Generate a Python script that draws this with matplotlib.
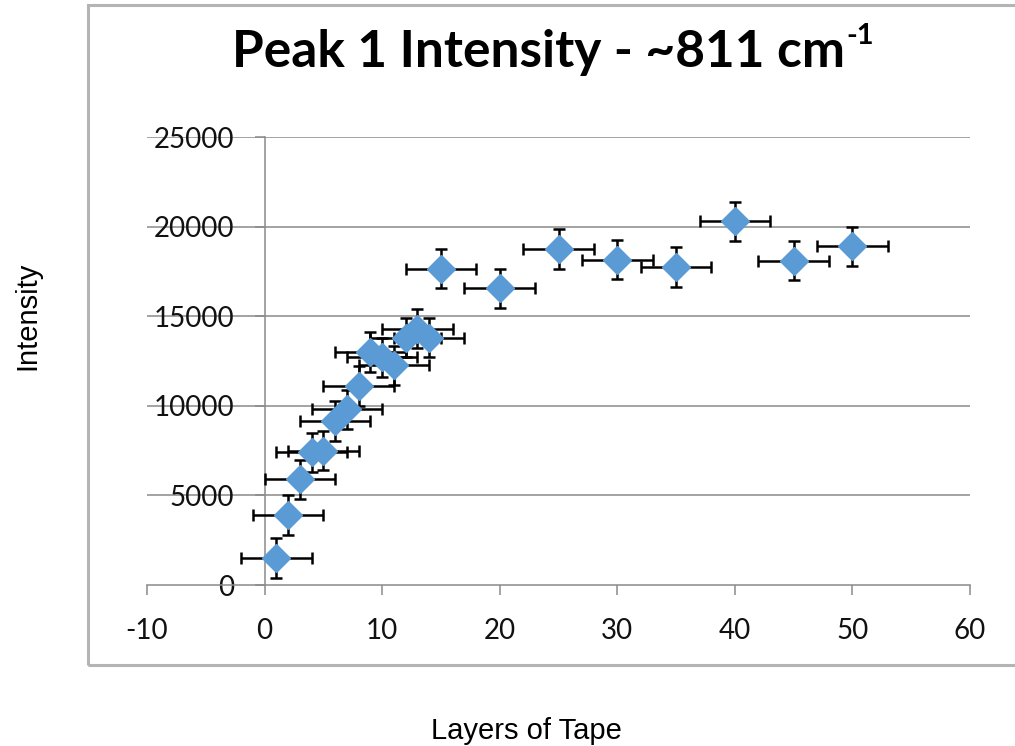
import matplotlib
matplotlib.use('Agg')
import matplotlib.pyplot as plt
from matplotlib.patches import Rectangle

# data
layers = [1, 2, 3, 4, 5, 6, 7, 8, 9, 10, 11, 12, 13, 14, 15, 20, 25, 30, 35, 40, 45, 50]
intensity = [1500, 3900, 5900, 7400, 7500, 9150, 9800, 11100, 13000, 12700, 12250,
             13800, 14300, 13800, 17650, 16550, 18750, 18150, 17750, 20300, 18100, 18900]
x_err = [3] * len(layers)
y_err = [1100] * len(layers)

x_ticks = [-10, 0, 10, 20, 30, 40, 50, 60]
y_ticks = [0, 5000, 10000, 15000, 20000, 25000]

plt.rcParams['axes.unicode_minus'] = False

W, H = 1015, 746
fig = plt.figure(figsize=(W / 100, H / 100), dpi=100)
fig.patch.set_facecolor('white')

# chart frame (cropped on the right)
fig.patches.append(Rectangle((88 / W, 1 - 665 / H), (1030 - 88) / W, (665 - 5) / H,
                             transform=fig.transFigure, fill=False,
                             edgecolor='#b4b4b4', lw=2.2))

ax = fig.add_axes([147 / W, (H - 585) / H, 823 / W, 448 / H])
ax.set_xlim(-10, 60)
ax.set_ylim(0, 25000)
ax.set_facecolor('none')

grid_col = '#8a8a8a'
for v in y_ticks[1:]:
    ax.axhline(v, color=grid_col, lw=1.1, zorder=1)

for s in ['top', 'right']:
    ax.spines[s].set_visible(False)
ax.spines['left'].set_position(('data', 0))
ax.spines['left'].set_color(grid_col)
ax.spines['bottom'].set_color(grid_col)
ax.spines['left'].set_linewidth(1.1)
ax.spines['bottom'].set_linewidth(1.1)

ax.set_xticks(x_ticks)
ax.set_yticks(y_ticks)
ax.set_xticklabels([str(t) for t in x_ticks])
ax.set_yticklabels([str(t) for t in y_ticks])
ax.tick_params(axis='both', direction='out', length=7, width=1.1, color=grid_col,
               labelsize=20, labelcolor='#111111')
ax.tick_params(axis='y', pad=15)
ax.tick_params(axis='x', pad=17)
for lbl in ax.get_xticklabels() + ax.get_yticklabels():
    lbl.set_family('Lato')

ax.errorbar(layers, intensity, xerr=x_err, yerr=y_err, fmt='D', color='#5b9bd5',
            mec='#5b9bd5', markersize=14, ecolor='black', elinewidth=1.8,
            capsize=4.5, capthick=1.8, zorder=3)

# title with a separate superscript
title = fig.text(538 / W, 1 - 67 / H, 'Peak 1 Intensity - ~811 cm',
                 ha='center', va='baseline', fontsize=37, fontweight='bold',
                 family='Lato')
ax.annotate('-1', xy=(1, 1), xycoords=title, xytext=(1, 4),
            textcoords='offset points', ha='left', va='top',
            fontsize=21, fontweight='bold', family='Lato')

fig.text(27 / W, 1 - 316 / H, 'Intensity', rotation=90, ha='center', va='center',
         fontsize=21, family='Liberation Sans')
fig.text(526 / W, 1 - 739 / H, 'Layers of Tape', ha='center', va='baseline',
         fontsize=21, family='Liberation Sans')

fig.savefig('out.png', dpi=100)
